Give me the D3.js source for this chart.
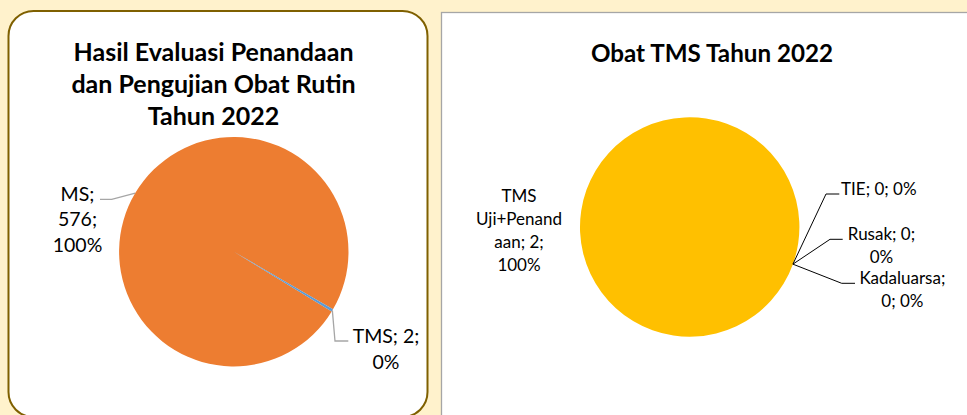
<!DOCTYPE html>
<html>
<head>
<meta charset="utf-8">
<script src="https://cdn.jsdelivr.net/npm/d3@7"></script>
<style>
  html, body { margin: 0; padding: 0; background: #FFF2CC; }
  svg { display: block; }
  text { font-family: Lato, "Open Sans", sans-serif; fill: #000; }
</style>
</head>
<body>
<svg></svg>
<script>
const width = 967;
const height = 415;

// Data, left chart
const leftTitle = ["Hasil Evaluasi Penandaan", "dan Pengujian Obat Rutin", "Tahun 2022"];
const leftCategories = ["MS", "TMS"];
const leftValues = [576, 2];
const leftColors = ["#ED7D31", "#5B9BD5"];

// Data, right chart
const rightTitle = ["Obat TMS Tahun 2022"];
const rightCategories = ["TMS Uji+Penandaan", "TIE", "Rusak", "Kadaluarsa"];
const rightValues = [2, 0, 0, 0];
const rightColors = ["#FFC000", "#5B9BD5", "#A5A5A5", "#ED7D31"];

const pct = d3.format(".0%");

const svg = d3.select("svg").attr("width", width).attr("height", height);

// Panels
svg.append("rect")
  .attr("x", 8.5).attr("y", 11)
  .attr("width", 419).attr("height", 406)
  .attr("rx", 25)
  .attr("fill", "#fff")
  .attr("stroke", "#7F6000")
  .attr("stroke-width", 2);

svg.append("rect")
  .attr("x", 441.5).attr("y", 12.5)
  .attr("width", 540).attr("height", 420)
  .attr("fill", "#fff")
  .attr("stroke", "#A6A6A6")
  .attr("stroke-width", 1.3);

function drawPie(opts) {
  const data = opts.values.map((v, i) => ({ cat: opts.categories[i], value: v, color: opts.colors[i] }));
  const total = d3.sum(opts.values);
  const start = opts.startDeg * Math.PI / 180;

  const pie = d3.pie()
    .value((d) => d.value)
    .sort(null)
    .startAngle(start)
    .endAngle(start + 2 * Math.PI);

  const arcs = pie(data);
  const arc = d3.arc().innerRadius(0).outerRadius(opts.r);
  const edge = d3.arc().innerRadius(opts.r).outerRadius(opts.r);

  const g = svg.append("g").attr("transform", `translate(${opts.cx},${opts.cy})`);

  g.selectAll("path")
    .data(arcs.filter((d) => d.value > 0))
    .join("path")
    .attr("d", arc)
    .attr("fill", (d) => d.data.color);

  // title
  svg.append("g")
    .selectAll("text")
    .data(opts.title)
    .join("text")
    .attr("x", opts.titleX)
    .attr("y", (d, i) => opts.titleY + i * opts.titleLH)
    .attr("text-anchor", "middle")
    .style("font-weight", "bold")
    .style("font-size", opts.titleSize + "px")
    .text((d) => d);

  // leader lines + labels
  arcs.forEach((a, i) => {
    const lay = opts.labels[i];
    const [ex, ey] = edge.centroid(a);
    const p0 = [opts.cx + ex, opts.cy + ey];
    svg.append("polyline")
      .attr("points", [p0, ...lay.leader].map((p) => p.join(",")).join(" "))
      .attr("fill", "none")
      .attr("stroke", opts.leaderColor)
      .attr("stroke-width", opts.leaderWidth);

    const lines = lay.lines(a.data.cat, a.data.value, pct(total ? a.data.value / total : 0));
    svg.append("g")
      .selectAll("text")
      .data(lines)
      .join("text")
      .attr("x", lay.x)
      .attr("y", (d, j) => lay.y + j * opts.labelLH)
      .attr("text-anchor", "middle")
      .style("font-size", opts.labelSize + "px")
      .text((d) => d);
  });
}

drawPie({
  title: leftTitle,
  titleX: 213.5, titleY: 61, titleLH: 32, titleSize: 25,
  categories: leftCategories, values: leftValues, colors: leftColors,
  cx: 233.8, cy: 251.7, r: 114.7, startDeg: 121.4,
  leaderColor: "#A6A6A6", leaderWidth: 1.3,
  labelSize: 19.5, labelLH: 25.5,
  labels: [
    { x: 77.5, y: 200.7, leader: [[111.7, 199.3], [100, 199.3]],
      lines: (c, v, p) => [c + ";", v + ";", p] },
    { x: 386, y: 343.3, leader: [[335, 341], [348.3, 341]],
      lines: (c, v, p) => [c + "; " + v + ";", p] }
  ]
});

drawPie({
  title: rightTitle,
  titleX: 712, titleY: 61.7, titleLH: 32, titleSize: 24.2,
  categories: rightCategories, values: rightValues, colors: rightColors,
  cx: 689.7, cy: 227, r: 109.7, startDeg: 109.8,
  leaderColor: "#000", leaderWidth: 1,
  labelSize: 17, labelLH: 23,
  labels: [
    { x: 519, y: 202.3, leader: [],
      lines: (c, v, p) => ["TMS", "Uji+Penand", "aan; " + v + ";", p] },
    { x: 878.8, y: 194.5, leader: [[826, 194], [839.3, 194]],
      lines: (c, v, p) => [c + "; " + v + "; " + p] },
    { x: 881.5, y: 240, leader: [[830, 239.3], [842.7, 239.3]],
      lines: (c, v, p) => [c + "; " + v + ";", p] },
    { x: 902.4, y: 284, leader: [[841.7, 283.3], [855, 283.3]],
      lines: (c, v, p) => [c + ";", v + "; " + p] }
  ]
});
</script>
</body>
</html>
